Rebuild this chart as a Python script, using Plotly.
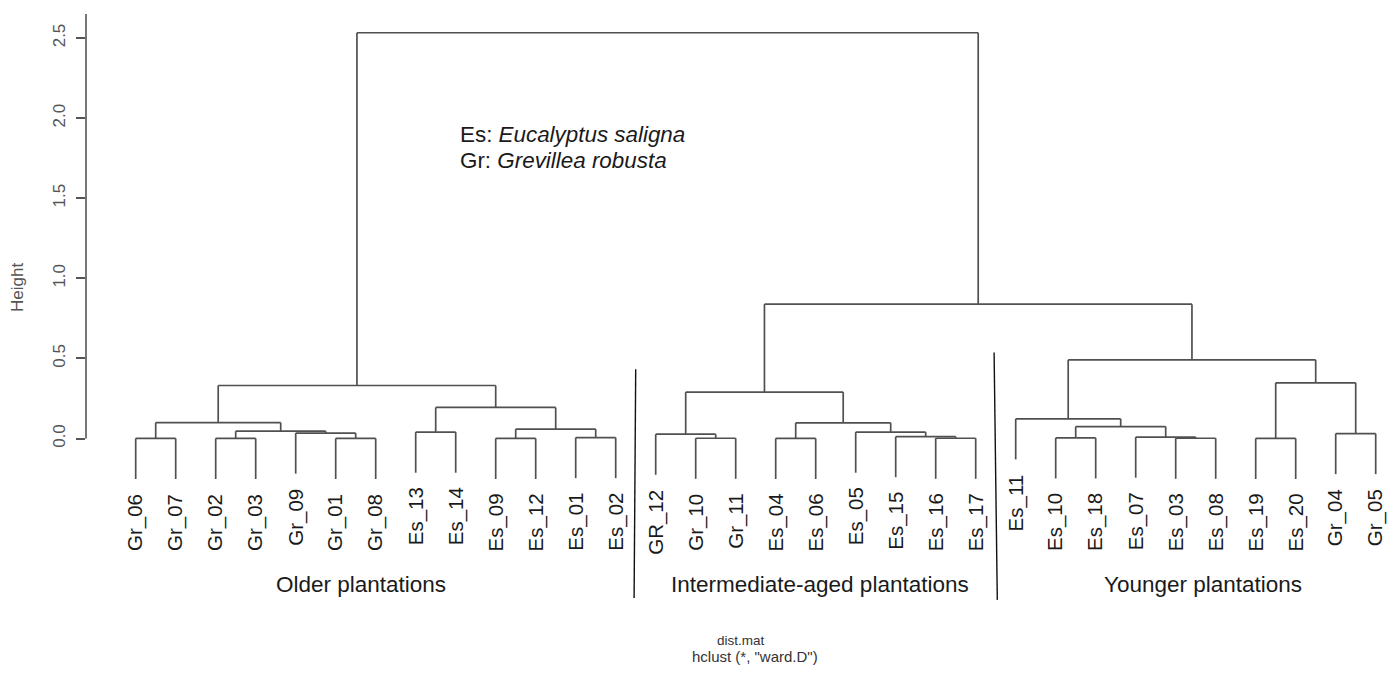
import plotly.graph_objects as go

# ---------------- data ----------------
leaf_labels = ["Gr_06", "Gr_07", "Gr_02", "Gr_03", "Gr_09", "Gr_01", "Gr_08",
               "Es_13", "Es_14", "Es_09", "Es_12", "Es_01", "Es_02",
               "GR_12", "Gr_10", "Gr_11", "Es_04", "Es_06", "Es_05", "Es_15", "Es_16", "Es_17",
               "Es_11", "Es_10", "Es_18", "Es_07", "Es_03", "Es_08", "Es_19", "Es_20", "Gr_04", "Gr_05"]

# merges (children are leaf labels or earlier merges "m<k>"), with merge heights
merge_left = ["Gr_06", "Gr_02", "Gr_01", "Gr_09", "m1", "m0",
              "Es_13", "Es_09", "Es_01", "m7", "m6", "m5",
              "Gr_10", "GR_12", "Es_04", "Es_16", "Es_15", "Es_05", "m14", "m13",
              "Es_10", "Es_03", "Es_07", "m20", "Es_11", "Es_19", "Gr_04", "m25", "m24",
              "m19", "m11"]
merge_right = ["Gr_07", "Gr_03", "Gr_08", "m2", "m3", "m4",
               "Es_14", "Es_12", "Es_02", "m8", "m9", "m10",
               "Gr_11", "m12", "Es_06", "Es_17", "m15", "m16", "m17", "m18",
               "Es_18", "Es_08", "m21", "m22", "m23", "Es_20", "Gr_05", "m26", "m27",
               "m28", "m29"]
merge_height = [0.001, 0.001, 0.001, 0.034, 0.046, 0.100,
                0.040, 0.001, 0.006, 0.059, 0.194, 0.331,
                0.002, 0.027, 0.001, 0.002, 0.012, 0.040, 0.098, 0.290,
                0.004, 0.002, 0.009, 0.075, 0.123, 0.001, 0.031, 0.348, 0.491,
                0.839, 2.533]

y_ticks = [0.0, 0.5, 1.0, 1.5, 2.0, 2.5]
y_tick_text = ["0.0", "0.5", "1.0", "1.5", "2.0", "2.5"]

group_names = ["Older plantations", "Intermediate-aged plantations", "Younger plantations"]
group_centers = [5.63, 17.1, 26.68]

# ---------------- build dendrogram segments ----------------
pos = {lab: float(i) for i, lab in enumerate(leaf_labels)}
hgt = {}
leaf_bottom = {}
hang = 0.1 * max(merge_height)
xs, ys = [], []
for k, (a, b, h) in enumerate(zip(merge_left, merge_right, merge_height)):
    for c in (a, b):
        if c in hgt:
            low = hgt[c]
        else:
            low = h - hang
            leaf_bottom[c] = low
        xs += [pos[c], pos[c], None]
        ys += [h, low, None]
    xs += [pos[a], pos[b], None]
    ys += [h, h, None]
    name = f"m{k}"
    pos[name] = (pos[a] + pos[b]) / 2
    hgt[name] = h

LINE = "#505050"
FONT = "Liberation Sans, Arial, sans-serif"

fig = go.Figure()
fig.add_trace(go.Scatter(x=xs, y=ys, mode="lines",
                         line=dict(color=LINE, width=1.7),
                         hoverinfo="skip", showlegend=False))

annotations = []
for lab in leaf_labels:
    annotations.append(dict(x=pos[lab], y=leaf_bottom[lab] - 0.08, xref="x", yref="y",
                            text=lab, textangle=-90, showarrow=False,
                            xanchor="center", yanchor="top",
                            font=dict(family=FONT, size=20.5, color="#1a1a1a")))
for name, cx in zip(group_names, group_centers):
    annotations.append(dict(x=cx, y=-0.914, xref="x", yref="y", text=name,
                            showarrow=False, xanchor="center", yanchor="middle",
                            font=dict(family=FONT, size=22.5, color="#1a1a1a")))
annotations.append(dict(x=8.06, y=1.895, xref="x", yref="y",
                        text="Es: <i>Eucalyptus saligna</i>", showarrow=False,
                        xanchor="left", yanchor="middle",
                        font=dict(family=FONT, size=22.4, color="#1a1a1a")))
annotations.append(dict(x=8.06, y=1.734, xref="x", yref="y",
                        text="Gr: <i>Grevillea robusta</i>", showarrow=False,
                        xanchor="left", yanchor="middle",
                        font=dict(family=FONT, size=22.4, color="#1a1a1a")))
annotations.append(dict(x=15.13, y=-1.258, xref="x", yref="y", text="dist.mat",
                        showarrow=False, xanchor="center", yanchor="middle",
                        font=dict(family=FONT, size=13.5, color="#333")))
annotations.append(dict(x=15.48, y=-1.358, xref="x", yref="y", text='hclust (*, "ward.D")',
                        showarrow=False, xanchor="center", yanchor="middle",
                        font=dict(family=FONT, size=15, color="#333")))
annotations.append(dict(x=0, xref="paper", xshift=-68, y=0.94, yref="y", text="Height",
                        textangle=-90, showarrow=False, xanchor="center", yanchor="middle",
                        font=dict(family=FONT, size=17, color="#555")))

shapes = [
    dict(type="line", xref="paper", yref="y", x0=0, x1=0, y0=0, y1=2.665,
         line=dict(color="#555", width=1.6)),
    dict(type="line", xref="x", yref="y", x0=12.5, y0=0.433, x1=12.46, y1=-0.996,
         line=dict(color="#111", width=1.4)),
    dict(type="line", xref="x", yref="y", x0=21.46, y0=0.537, x1=21.54, y1=-1.007,
         line=dict(color="#111", width=1.4)),
]

fig.update_layout(
    width=1379, height=659, autosize=False,
    margin=dict(l=78, r=0, t=6, b=0, pad=0),
    plot_bgcolor="white", paper_bgcolor="white",
    xaxis=dict(range=[-1.2425, 31.2825], visible=False, fixedrange=True),
    yaxis=dict(range=[-1.426, 2.65], tickvals=y_ticks, ticktext=y_tick_text,
               tickangle=-90, ticks="outside", ticklen=9, tickwidth=1.6, tickcolor="#555",
               ticklabelstandoff=4,
               showline=False, showgrid=False, zeroline=False,
               tickfont=dict(family=FONT, size=17, color="#555"), fixedrange=True),
    annotations=annotations, shapes=shapes,
)

fig.write_html("out.html")
